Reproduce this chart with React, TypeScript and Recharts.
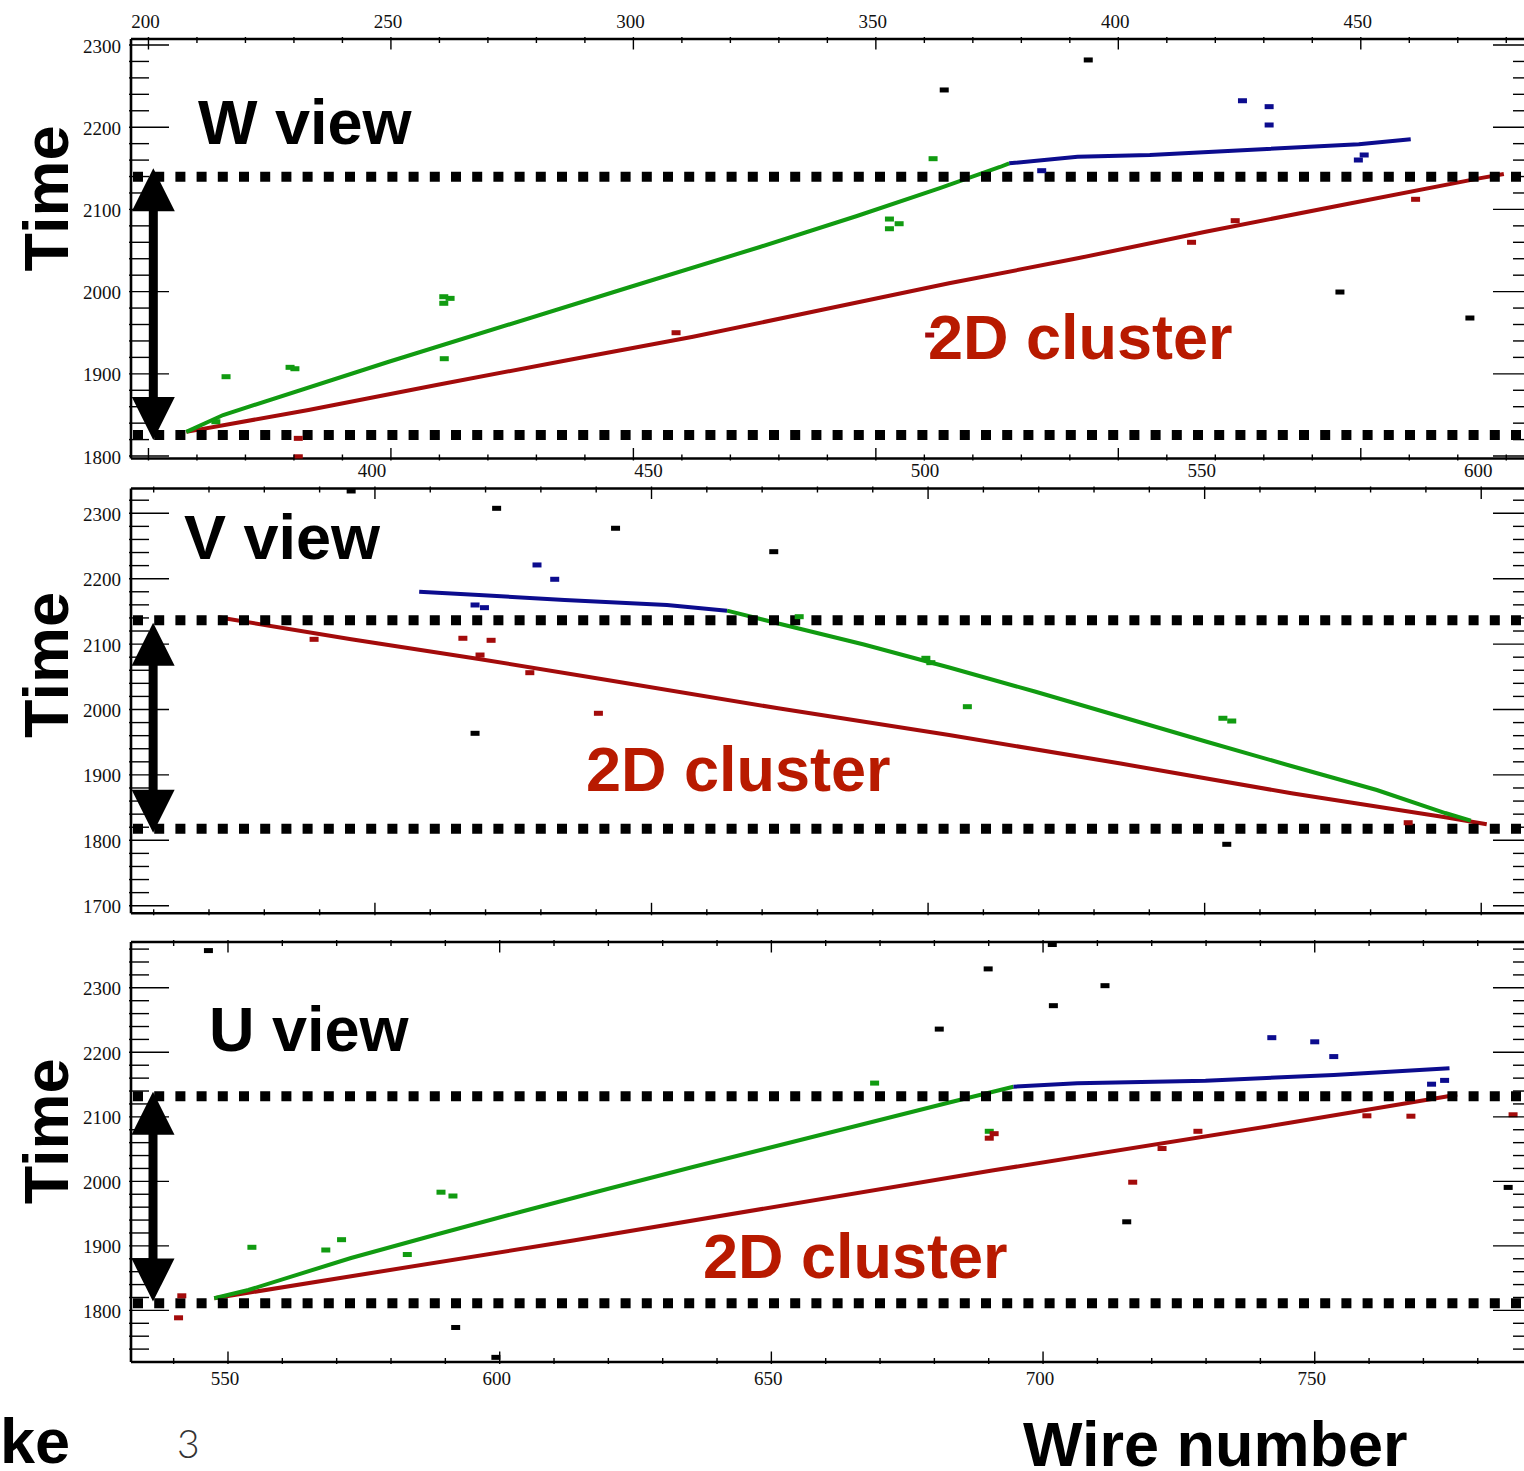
import React from 'react';
import { ComposedChart, Line, Scatter, XAxis, YAxis, ReferenceLine } from 'recharts';

type P = { w: number; t: number };

// ---------------- W view ----------------
const wGreenTrack: P[] = [
  { w: 207.8, t: 1829.4 }, { w: 215.4, t: 1849.9 }, { w: 249.4, t: 1914.4 }, { w: 299.3, t: 2005.6 },
  { w: 326.1, t: 2054.3 }, { w: 346.1, t: 2092.0 }, { w: 363.2, t: 2126.0 }, { w: 375.6, t: 2151.6 },
  { w: 377.5, t: 2156.1 },
];
const wBlueTrack: P[] = [
  { w: 377.5, t: 2156.1 }, { w: 391.6, t: 2164.1 }, { w: 406.5, t: 2166.2 }, { w: 426.6, t: 2172.3 },
  { w: 449.6, t: 2179.2 }, { w: 460.3, t: 2185.3 },
];
const wRedTrack: P[] = [
  { w: 207.8, t: 1829.4 }, { w: 233.0, t: 1856.0 }, { w: 259.4, t: 1886.4 }, { w: 285.8, t: 1915.9 },
  { w: 312.3, t: 1945.1 }, { w: 338.7, t: 1977.6 }, { w: 365.1, t: 2010.1 }, { w: 391.6, t: 2040.5 },
  { w: 418.0, t: 2072.9 }, { w: 448.0, t: 2107.4 }, { w: 474.4, t: 2137.8 }, { w: 479.5, t: 2143.0 },
];
const wBlackHits: P[] = [
  { w: 393.8, t: 2281.8 }, { w: 364.1, t: 2245.3 }, { w: 445.7, t: 1999.5 }, { w: 472.5, t: 1967.9 },
];
const wGreenHits: P[] = [
  { w: 361.8, t: 2161.7 }, { w: 352.8, t: 2088.3 }, { w: 352.8, t: 2076.5 }, { w: 354.8, t: 2082.6 },
  { w: 216.0, t: 1896.5 }, { w: 229.2, t: 1907.9 }, { w: 230.2, t: 1906.2 }, { w: 260.9, t: 1993.8 },
  { w: 260.9, t: 1985.8 }, { w: 262.2, t: 1991.8 }, { w: 261.0, t: 1918.4 }, { w: 213.9, t: 1841.7 },
];
const wRedHits: P[] = [
  { w: 230.9, t: 1821.5 }, { w: 230.9, t: 1799.1 }, { w: 308.8, t: 1950.0 }, { w: 424.1, t: 2086.3 },
  { w: 415.1, t: 2060.0 }, { w: 461.3, t: 2112.3 }, { w: 361.1, t: 1947.2 },
];
const wBlueHits: P[] = [
  { w: 425.6, t: 2232.2 }, { w: 431.1, t: 2225.0 }, { w: 431.1, t: 2202.7 }, { w: 384.2, t: 2147.1 },
  { w: 450.7, t: 2166.2 }, { w: 449.5, t: 2160.1 },
];
const wDottedTimes = [2139.8, 1825.5];
const wArrow = { w: 201.0, top: 2150.0, bottom: 1819.5 };
const wXLabels = [200, 250, 300, 350, 400, 450];
const wYLabels = [1800, 1900, 2000, 2100, 2200, 2300];

// ---------------- V view ----------------
const vRedTrack: P[] = [
  { w: 371.7, t: 2141.0 }, { w: 395.7, t: 2107.3 }, { w: 418.8, t: 2077.2 }, { w: 442.0, t: 2045.1 },
  { w: 472.9, t: 2001.8 }, { w: 503.8, t: 1961.0 }, { w: 534.8, t: 1917.4 }, { w: 565.7, t: 1871.9 },
  { w: 593.5, t: 1835.2 }, { w: 601.0, t: 1824.5 },
];
const vGreenTrack: P[] = [
  { w: 463.65, t: 2151.1 }, { w: 472.93, t: 2131.5 }, { w: 488.39, t: 2099.4 }, { w: 503.83, t: 2064.2 },
  { w: 519.29, t: 2027.5 }, { w: 534.76, t: 1989.3 }, { w: 550.2, t: 1951.1 }, { w: 565.66, t: 1913.6 },
  { w: 581.12, t: 1876.9 }, { w: 593.49, t: 1841.7 }, { w: 598.12, t: 1830.0 },
];
const vBlueTrack: P[] = [
  { w: 408.0, t: 2180.1 }, { w: 418.8, t: 2175.1 }, { w: 434.3, t: 2167.4 }, { w: 452.8, t: 2159.8 },
  { w: 463.65, t: 2151.1 },
];
const vBlackHits: P[] = [
  { w: 422.0, t: 2307.6 }, { w: 443.5, t: 2277.1 }, { w: 418.1, t: 1963.6 }, { w: 395.7, t: 2334.1 },
  { w: 472.1, t: 2241.3 }, { w: 554.0, t: 1793.9 },
];
const vRedHits: P[] = [
  { w: 389.0, t: 2107.3 }, { w: 415.9, t: 2108.9 }, { w: 421.0, t: 2105.8 }, { w: 428.0, t: 2056.3 },
  { w: 440.4, t: 1994.2 }, { w: 586.8, t: 1826.9 }, { w: 419.0, t: 2083.3 },
];
const vBlueHits: P[] = [
  { w: 429.3, t: 2221.0 }, { w: 432.5, t: 2199.1 }, { w: 418.1, t: 2159.8 }, { w: 419.8, t: 2155.7 },
];
const vGreenHits: P[] = [
  { w: 499.6, t: 2078.3 }, { w: 500.5, t: 2071.6 }, { w: 507.1, t: 2004.3 }, { w: 553.3, t: 1986.6 },
  { w: 554.9, t: 1982.4 }, { w: 476.7, t: 2141.9 },
];
const vDottedTimes = [2136.4, 1817.7];
const vArrow = { w: 359.9, top: 2132.7, bottom: 1811.6 };
const vXLabels = [400, 450, 500, 550, 600];
const vYLabels = [1700, 1800, 1900, 2000, 2100, 2200, 2300];

// ---------------- U view ----------------
const uGreenTrack: P[] = [
  { w: 547.46, t: 1818.8 }, { w: 553.75, t: 1831.6 }, { w: 572.64, t: 1881.2 }, { w: 588.36, t: 1917.6 },
  { w: 604.09, t: 1953.3 }, { w: 619.83, t: 1988.2 }, { w: 635.55, t: 2022.3 }, { w: 651.29, t: 2055.6 },
  { w: 667.03, t: 2088.9 }, { w: 682.74, t: 2122.2 }, { w: 694.54, t: 2146.7 },
];
const uBlueTrack: P[] = [
  { w: 694.54, t: 2146.7 }, { w: 706.3, t: 2152.0 }, { w: 729.9, t: 2156.0 }, { w: 753.5, t: 2164.8 },
  { w: 774.8, t: 2175.2 },
];
const uRedTrack: P[] = [
  { w: 547.46, t: 1818.8 }, { w: 613.54, t: 1908.3 }, { w: 690.62, t: 2016.8 }, { w: 745.67, t: 2091.1 },
  { w: 774.0, t: 2131.2 }, { w: 776.21, t: 2134.6 },
];
const uBlackHits: P[] = [
  { w: 546.4, t: 2357.7 }, { w: 591.9, t: 1773.5 }, { w: 599.3, t: 1727.2 }, { w: 701.7, t: 2367.1 },
  { w: 689.9, t: 2329.3 }, { w: 711.4, t: 2303.3 }, { w: 701.9, t: 2272.3 }, { w: 680.9, t: 2236.0 },
  { w: 715.4, t: 1937.3 }, { w: 785.6, t: 1990.6 },
];
const uGreenHits: P[] = [
  { w: 554.4, t: 1897.8 }, { w: 568.0, t: 1893.6 }, { w: 570.9, t: 1909.6 }, { w: 583.0, t: 1886.6 },
  { w: 589.2, t: 1983.2 }, { w: 591.4, t: 1977.3 }, { w: 669.0, t: 2152.3 }, { w: 690.1, t: 2077.6 },
];
const uRedHits: P[] = [
  { w: 541.5, t: 1822.6 }, { w: 540.9, t: 1788.5 }, { w: 690.1, t: 2066.9 }, { w: 691.0, t: 2073.9 },
  { w: 716.5, t: 1998.7 }, { w: 721.9, t: 2050.9 }, { w: 728.5, t: 2077.6 }, { w: 759.6, t: 2101.6 },
  { w: 767.7, t: 2101.0 }, { w: 786.5, t: 2103.2 },
];
const uBlueHits: P[] = [
  { w: 742.1, t: 2222.7 }, { w: 750.0, t: 2216.3 }, { w: 753.5, t: 2193.4 }, { w: 771.5, t: 2150.6 },
  { w: 773.9, t: 2156.5 },
];
const uDottedTimes = [2132.0, 1810.9];
const uArrow = { w: 536.2, top: 2139.0, bottom: 1813.6 };
const uXLabels = [550, 600, 650, 700, 750];
const uYLabels = [1800, 1900, 2000, 2100, 2200, 2300];

// ---------------- styling ----------------
const GREEN = '#119b11';
const RED = '#a30b0b';
const BLUE = '#0c0c8e';
const BLACK = '#000000';
const TEXT_RED = '#b81a00';
const SERIF = '"Liberation Serif", "DejaVu Serif", serif';
const SANS = '"Liberation Sans", Arial, Helvetica, sans-serif';

const range = (a: number, b: number, s: number) => {
  const r: number[] = [];
  for (let v = a; v <= b + 1e-9; v += s) r.push(Math.round(v * 1000) / 1000);
  return r;
};

type Side = 'top' | 'bottom' | 'left' | 'right';

function makeTick(side: Side, majorStep: number, labels: number[] | null, majorLen: number, minorLen: number) {
  return (props: any) => {
    const { x, y, payload } = props;
    const v = Number(payload.value);
    const isMajor = Math.abs(v / majorStep - Math.round(v / majorStep)) < 1e-6;
    const len = isMajor ? majorLen : minorLen;
    const show = labels ? labels.includes(v) : false;
    let line: any = null;
    let label: any = null;
    const lp = { stroke: '#000', strokeWidth: 1.4 };
    const tp = { fontFamily: SERIF, fontSize: 19, fill: '#111' };
    if (side === 'top') {
      line = <line x1={x} y1={y} x2={x} y2={y + len} {...lp} />;
      if (show) label = <text x={x - 3} y={y - 16} textAnchor="middle" dominantBaseline="central" {...tp}>{v}</text>;
    } else if (side === 'bottom') {
      line = <line x1={x} y1={y} x2={x} y2={y - len} {...lp} />;
      if (show) label = <text x={x - 3} y={y + 14} textAnchor="middle" dominantBaseline="central" {...tp}>{v}</text>;
    } else if (side === 'left') {
      line = <line x1={x} y1={y} x2={x + len} y2={y} {...lp} />;
      if (show) label = <text x={x - 8} y={y + 1} textAnchor="end" dominantBaseline="central" {...tp}>{v}</text>;
    } else {
      line = <line x1={x} y1={y} x2={x - len} y2={y} {...lp} />;
    }
    return <g>{line}{label}</g>;
  };
}

const HitShape = (props: any) => {
  const { cx, cy, fill } = props;
  if (cx == null || cy == null) return <g />;
  return <rect x={cx - 4.5} y={cy - 2.5} width={9} height={5} fill={fill} />;
};

const ArrowShape = (props: any) => {
  const { x1, y1, y2 } = props;
  const x = x1;
  const top = Math.min(y1, y2);
  const bot = Math.max(y1, y2);
  const hw = 21.5;
  const hh = 43;
  const sw = 9;
  return (
    <g>
      <rect x={x - sw / 2} y={top + hh - 1} width={sw} height={bot - top - 2 * hh + 2} fill="#000" />
      <polygon points={`${x},${top} ${x - hw},${top + hh} ${x + hw},${top + hh}`} fill="#000" />
      <polygon points={`${x},${bot} ${x - hw},${bot - hh} ${x + hw},${bot - hh}`} fill="#000" />
    </g>
  );
};

const FRAME_LEFT = 131;
const FRAME_RIGHT = 1531;
const CHART_W = 1560;

type PanelProps = {
  divTop: number;
  divHeight: number;
  frameTop: number;
  frameBottom: number;
  xDomain: [number, number];
  yDomain: [number, number];
  xTicks: number[];
  yTicks: number[];
  xLabels: number[];
  xLabelSide: 'top' | 'bottom';
  yLabels: number[];
  green: P[];
  red: P[];
  blue: P[];
  blackHits: P[];
  greenHits: P[];
  redHits: P[];
  blueHits: P[];
  dotted: number[];
  arrow: { w: number; top: number; bottom: number };
};

function Panel(p: PanelProps) {
  const margin = {
    left: FRAME_LEFT - 1,
    right: CHART_W - FRAME_RIGHT - 1,
    top: p.frameTop - p.divTop - 1,
    bottom: p.divTop + p.divHeight - p.frameBottom - 1,
  };
  const axisLine = { stroke: '#000', strokeWidth: 2.6 };
  return (
    <div style={{ position: 'absolute', left: 0, top: p.divTop, width: CHART_W, height: p.divHeight }}>
      <ComposedChart width={CHART_W} height={p.divHeight} margin={margin}>
        <XAxis
          xAxisId="t" orientation="top" type="number" dataKey="w" domain={p.xDomain} allowDataOverflow
          ticks={p.xTicks} interval={0} tickSize={0} tickLine={false} axisLine={axisLine} height={1}
          tick={makeTick('top', 50, p.xLabelSide === 'top' ? p.xLabels : null, 12.5, 6)}
        />
        <XAxis
          xAxisId="b" orientation="bottom" type="number" dataKey="w" domain={p.xDomain} allowDataOverflow
          ticks={p.xTicks} interval={0} tickSize={0} tickLine={false} axisLine={axisLine} height={1}
          tick={makeTick('bottom', 50, p.xLabelSide === 'bottom' ? p.xLabels : null, 12.5, 6)}
        />
        <YAxis
          yAxisId="l" orientation="left" type="number" dataKey="t" domain={p.yDomain} allowDataOverflow
          ticks={p.yTicks} interval={0} tickSize={0} tickLine={false} axisLine={axisLine} width={1}
          tick={makeTick('left', 100, p.yLabels, 40, 20)}
        />
        <YAxis
          yAxisId="r" orientation="right" type="number" dataKey="t" domain={p.yDomain} allowDataOverflow
          ticks={p.yTicks} interval={0} tickSize={0} tickLine={false} axisLine={axisLine} width={1}
          tick={makeTick('right', 100, null, 40, 20)}
        />
        <Line data={p.red} dataKey="t" xAxisId="t" yAxisId="l" type="linear" stroke={RED} strokeWidth={4}
          dot={false} activeDot={false} isAnimationActive={false} />
        <Line data={p.green} dataKey="t" xAxisId="t" yAxisId="l" type="linear" stroke={GREEN} strokeWidth={4}
          dot={false} activeDot={false} isAnimationActive={false} />
        <Line data={p.blue} dataKey="t" xAxisId="t" yAxisId="l" type="linear" stroke={BLUE} strokeWidth={4}
          dot={false} activeDot={false} isAnimationActive={false} />
        <Scatter data={p.blackHits} dataKey="t" xAxisId="t" yAxisId="l" fill={BLACK} shape={HitShape} isAnimationActive={false} />
        <Scatter data={p.greenHits} dataKey="t" xAxisId="t" yAxisId="l" fill={GREEN} shape={HitShape} isAnimationActive={false} />
        <Scatter data={p.redHits} dataKey="t" xAxisId="t" yAxisId="l" fill={RED} shape={HitShape} isAnimationActive={false} />
        <Scatter data={p.blueHits} dataKey="t" xAxisId="t" yAxisId="l" fill={BLUE} shape={HitShape} isAnimationActive={false} />
        {p.dotted.map((t, i) => (
          <ReferenceLine key={'d' + i} y={t} xAxisId="t" yAxisId="l" stroke="#000" strokeWidth={10}
            strokeDasharray="10 11.2" strokeDashoffset={-2} ifOverflow="visible" />
        ))}
        <ReferenceLine
          xAxisId="t" yAxisId="l" ifOverflow="visible"
          segment={[{ x: p.arrow.w, y: p.arrow.top }, { x: p.arrow.w, y: p.arrow.bottom }]}
          shape={ArrowShape}
        />
      </ComposedChart>
    </div>
  );
}

const bigText = { fontFamily: SANS, fontWeight: 700, fontSize: 63 } as const;

export default function App() {
  return (
    <div style={{ position: 'absolute', left: 0, top: 0, width: 1524, height: 1471, overflow: 'hidden', background: '#fff' }}>
      <Panel
        divTop={0} divHeight={480} frameTop={39} frameBottom={458.5}
        xDomain={[196.4, 485.1]} yDomain={[1797, 2307.3]}
        xTicks={range(200, 480, 10)} yTicks={range(1800, 2300, 20)}
        xLabels={wXLabels} xLabelSide="top" yLabels={wYLabels}
        green={wGreenTrack} red={wRedTrack} blue={wBlueTrack}
        blackHits={wBlackHits} greenHits={wGreenHits} redHits={wRedHits} blueHits={wBlueHits}
        dotted={wDottedTimes} arrow={wArrow}
      />
      <Panel
        divTop={440} divHeight={500} frameTop={488.5} frameBottom={913.3}
        xDomain={[355.9, 609.0]} yDomain={[1688.4, 2337.9]}
        xTicks={range(360, 600, 10)} yTicks={range(1700, 2320, 20)}
        xLabels={vXLabels} xLabelSide="top" yLabels={vYLabels}
        green={vGreenTrack} red={vRedTrack} blue={vBlueTrack}
        blackHits={vBlackHits} greenHits={vGreenHits} redHits={vRedHits} blueHits={vBlueHits}
        dotted={vDottedTimes} arrow={vArrow}
      />
      <Panel
        divTop={900} divHeight={500} frameTop={942} frameBottom={1362}
        xDomain={[532.15, 789.8]} yDomain={[1720, 2371]}
        xTicks={range(540, 780, 10)} yTicks={range(1740, 2360, 20)}
        xLabels={uXLabels} xLabelSide="bottom" yLabels={uYLabels}
        green={uGreenTrack} red={uRedTrack} blue={uBlueTrack}
        blackHits={uBlackHits} greenHits={uGreenHits} redHits={uRedHits} blueHits={uBlueHits}
        dotted={uDottedTimes} arrow={uArrow}
      />
      <svg width={1524} height={1471} style={{ position: 'absolute', left: 0, top: 0, pointerEvents: 'none' }}>
        <text x={198} y={143.5} {...bigText} fill="#000">W view</text>
        <text x={184} y={559} {...bigText} fill="#000">V view</text>
        <text x={209} y={1051} {...bigText} fill="#000">U view</text>
        <text x={928} y={358.5} {...bigText} fill={TEXT_RED}>2D cluster</text>
        <text x={586} y={791} {...bigText} fill={TEXT_RED}>2D cluster</text>
        <text x={703} y={1278} {...bigText} fill={TEXT_RED}>2D cluster</text>
        <text x={68} y={198.5} {...bigText} fill="#000" textAnchor="middle" transform="rotate(-90 68 198.5)">Time</text>
        <text x={68} y={665} {...bigText} fill="#000" textAnchor="middle" transform="rotate(-90 68 665)">Time</text>
        <text x={68} y={1131.3} {...bigText} fill="#000" textAnchor="middle" transform="rotate(-90 68 1131.3)">Time</text>
        <text x={1023} y={1466} {...bigText} fill="#000">Wire number</text>
        <text x={0} y={1463} {...bigText} fill="#000">ke</text>
        <text x={177} y={1458} fontFamily='Lato, "Liberation Sans", sans-serif' fontWeight={300} fontSize={39} fill="#333">3</text>
      </svg>
    </div>
  );
}
